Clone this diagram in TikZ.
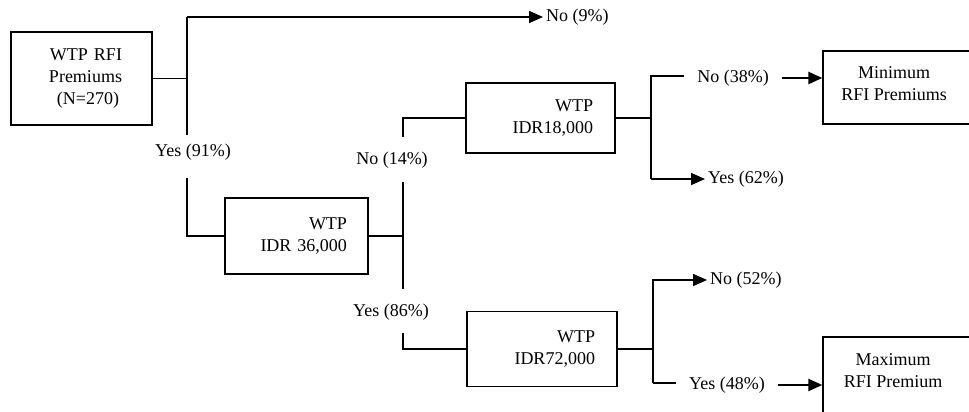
\documentclass[tikz,border=0pt]{standalone}
\usepackage{fontspec}
\setmainfont{Liberation Serif}
\usetikzlibrary{arrows.meta}
\begin{document}
\begin{tikzpicture}[x=1pt,y=-1pt,font=\fontsize{18}{22}\selectfont,line join=miter,
	box/.style={draw,line width=1.4pt,inner ysep=0pt},
	lbl/.style={inner sep=0pt},
	outcome/.style={inner xsep=3pt,inner ysep=0pt,anchor=west},
	branch/.style={inner xsep=13pt,inner ysep=0pt},
	link/.style={line width=1.6pt},
	arr/.style={line width=1.6pt,-{Triangle[length=14pt,width=12pt]}},
	barr/.style={line width=2.4pt,-{Triangle[length=14pt,width=12pt]}}]
	\clip (0,0) rectangle (969,412);
	\node[box,text width=81pt,inner xsep=30pt,minimum height=93pt,align=right] (prem) at (81.5,78.5) {WTP RFI\\Premiums\\(N=270)\,};
	\node[box,text width=101pt,inner xsep=21pt,minimum height=76pt,align=right] (wtp36) at (296.5,236) {WTP\\IDR 36,000};
	\node[box,text width=105pt,inner xsep=22pt,minimum height=70pt,align=right] (wtp18) at (540.5,118) {WTP\\IDR18,000};
	\node[box,text width=106pt,inner xsep=22pt,minimum height=75pt,align=right] (wtp72) at (542,349) {WTP\\IDR72,000};
	\node[box,minimum width=170pt,minimum height=73pt] (minprem) at (908,87.5) {};
	\node[lbl,align=center] (mintxt) at (894,84) {Minimum\\RFI Premiums};
	\node[box,minimum width=170pt,minimum height=110pt] (maxprem) at (908,392) {};
	\node[lbl,align=center] (maxtxt) at (893,371) {Maximum\\RFI Premium};
	\node[lbl] (y91) at (193,152) {Yes (91\%)};
	\node[lbl] (n14) at (392,160) {No (14\%)};
	\node[lbl] (y86) at (391,312) {Yes (86\%)};
	\node[outcome] (no9) at (543,17) {No (9\%)};
	\node[branch] (no38) at (733,78) {No (38\%)};
	\node[outcome] (y62) at (705,179) {Yes (62\%)};
	\node[outcome] (n52) at (707,280) {No (52\%)};
	\node[branch] (y48) at (727,385) {Yes (48\%)};
	\coordinate (f1) at (187,17);
	\coordinate (f1a) at (187,135);
	\coordinate (f1b) at (187,178);
	\coordinate (f1c) at (187,236);
	\coordinate (f2) at (403,118);
	\coordinate (f2a) at (403,137);
	\coordinate (f2b) at (403,182);
	\coordinate (f2m) at (403,236);
	\coordinate (f2c) at (403,289);
	\coordinate (f2d) at (403,333);
	\coordinate (f2e) at (403,349);
	\coordinate (f3) at (651,118);
	\coordinate (f3t) at (651,76);
	\coordinate (f3b) at (651,179);
	\coordinate (f4) at (653,349);
	\coordinate (f4t) at (653,280);
	\coordinate (f4b) at (653,383);
	\draw[link] (prem.east) -- (prem.east -| f1);
	\draw[link] (f1a) -- (f1);
	\draw[arr] (f1) -- (no9.west);
	\draw[link] (f1b) -- (f1c) -- (wtp36.west);
	\draw[link] (wtp36.east) -- (f2m);
	\draw[link] (wtp18.west) -- (f2) -- (f2a);
	\draw[link] (f2b) -- (f2c);
	\draw[link] (f2d) -- (f2e) -- (wtp72.west);
	\draw[link] (wtp18.east) -- (f3);
	\draw[link] (f3t -| no38.west) -- (f3t) -- (f3b);
	\draw[arr] (f3b) -- (y62.west);
	\draw[barr] (no38.east) -- (no38.east -| minprem.west);
	\draw[link] (wtp72.east) -- (f4);
	\draw[arr] (f4b) -- (f4t) -- (n52.west);
	\draw[link] (f4b) -- (f4b -| y48.west);
	\draw[barr] (y48.east) -- (y48.east -| maxprem.west);
\end{tikzpicture}
\end{document}
